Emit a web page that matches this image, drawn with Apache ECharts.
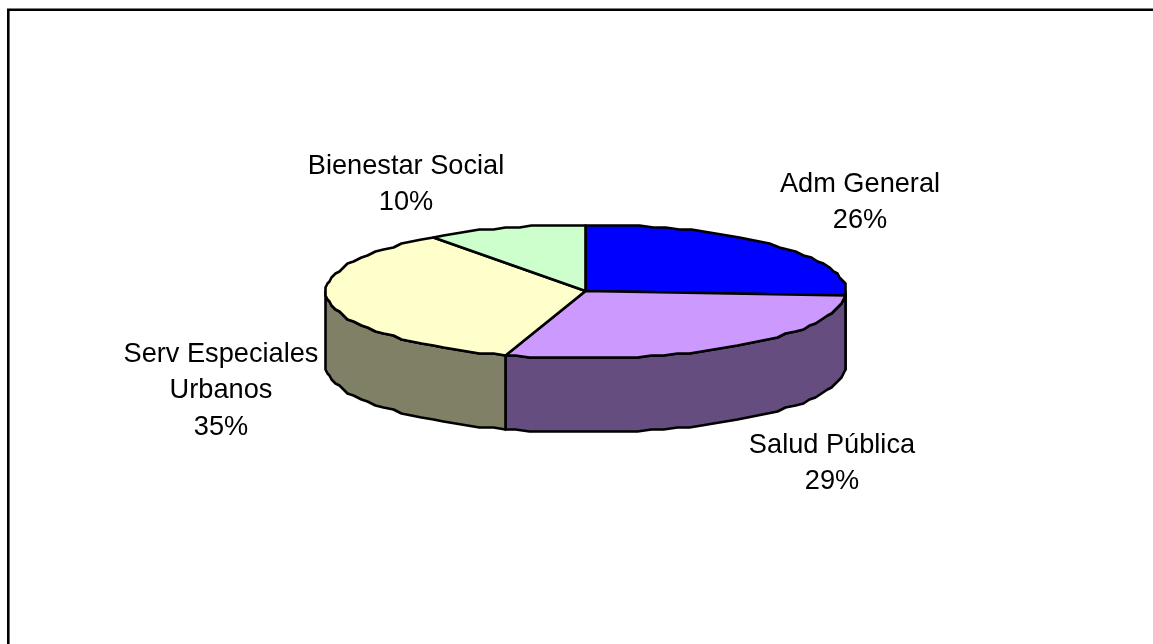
<!DOCTYPE html>
<html>
<head>
<meta charset="utf-8">
<style>html,body{margin:0;padding:0;background:#fff}#chart{width:1153px;height:644px}</style>
<script src="https://cdn.jsdelivr.net/npm/echarts@6/dist/echarts.min.js"></script>
</head>
<body>
<div id="chart"></div>
<script>
// Budget shares by area
const categories = ['Adm General', 'Salud Pública', 'Serv Especiales\nUrbanos', 'Bienestar Social'];
const shares = [26, 29, 35, 10];

// Slice colours: top face and the darker rim below it
const topColors = ['#0000FF', '#CC99FF', '#FFFFCC', '#CCFFCC'];
const sideColors = ['#000080', '#664D80', '#808066', '#668066'];

// Top edge of each label block
const labelCenters = [[860, 166], [832, 427], [221, 336], [406, 148]];

// Tilted disc geometry
const disc = { cx: 585.5, cy: 291, rx: 260, ry: 67, depth: 74 };
const GRID = 2;     // outline vertices sit on a coarse grid
const STEP = 3;     // degrees between outline vertices

const total = shares.reduce((a, b) => a + b, 0);
const snap = v => Math.round((v - 1) / GRID) * GRID + 1.5;

function rimPoint(deg, drop) {
  const t = deg * Math.PI / 180;
  const x = disc.cx + disc.rx * Math.sin(t);
  const y = disc.cy - disc.ry * Math.cos(t);
  return [snap(x), snap(y) + drop];
}

function arc(from, to, drop) {
  const pts = [];
  let d = from;
  while (d < to) { pts.push(rimPoint(d, drop)); d += STEP; }
  pts.push(rimPoint(to, drop));
  return pts;
}

const outline = { stroke: '#000', lineWidth: 2.6, lineJoin: 'round' };

function renderSlice(params, api) {
  const i = params.dataIndex;
  let before = 0;
  for (let k = 0; k < i; k++) before += shares[k];
  const value = api.value(0);
  const start = before / total * 360;
  const end = (before + value) / total * 360;

  const children = [];

  // Rim: only the part facing the viewer (90 to 270 degrees from the top)
  const a = Math.max(start, 90);
  const b = Math.min(end, 270);
  if (a < b) {
    const rim = arc(a, b, 0).concat(arc(a, b, disc.depth).reverse());
    children.push({
      type: 'polygon', z2: 1,
      shape: { points: rim },
      style: Object.assign({ fill: sideColors[i] }, outline)
    });
  }

  // Top face
  children.push({
    type: 'polygon', z2: 2,
    shape: { points: [[snap(disc.cx), disc.cy]].concat(arc(start, end, 0)) },
    style: Object.assign({ fill: topColors[i] }, outline)
  });

  // Name and percentage
  children.push({
    type: 'text', z2: 3,
    style: {
      x: labelCenters[i][0],
      y: labelCenters[i][1],
      text: categories[i] + '\n' + Math.round(value / total * 100) + '%',
      align: 'center',
      verticalAlign: 'top',
      font: '27.2px "Liberation Sans", Arial, sans-serif',
      lineHeight: 36.5,
      fill: '#000'
    }
  });

  return { type: 'group', children };
}

const chart = echarts.init(document.getElementById('chart'), null, { renderer: 'canvas' });
chart.setOption({
  animation: false,
  backgroundColor: '#fff',
  graphic: [{
    type: 'polyline',
    shape: { points: [[8.3, 644], [8.3, 9.7], [1153, 9.7]] },
    style: { stroke: '#000', lineWidth: 2.6, fill: null }
  }],
  series: [{
    type: 'custom',
    coordinateSystem: 'none',
    silent: true,
    data: shares.map((v, i) => ({ name: categories[i], value: [v] })),
    renderItem: renderSlice
  }]
});
</script>
</body>
</html>
